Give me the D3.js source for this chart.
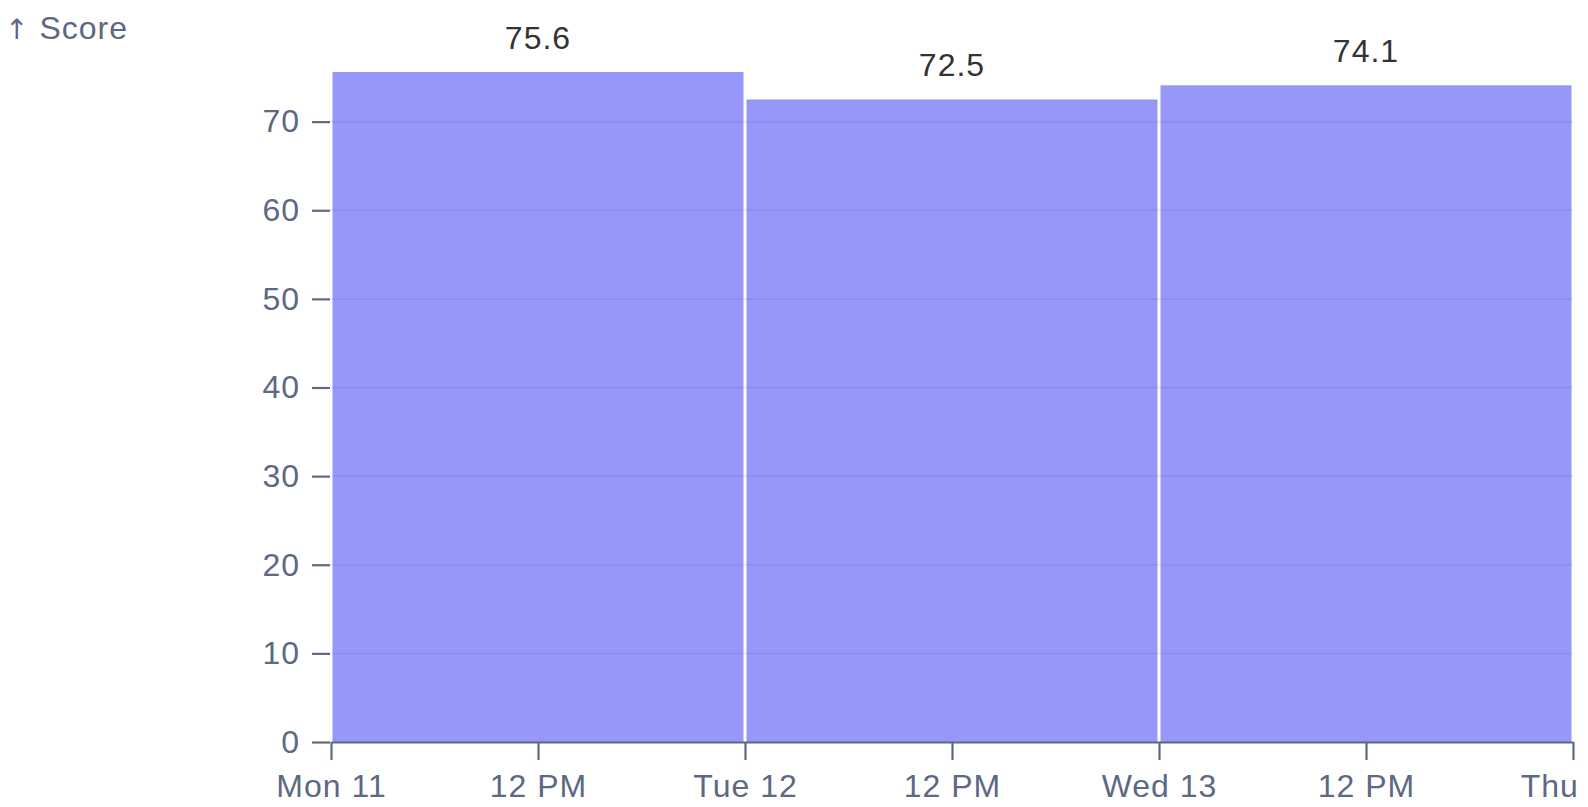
<!DOCTYPE html>
<html><head><meta charset="utf-8">
<script src="https://cdn.jsdelivr.net/npm/d3@7"></script>
<style>
html,body{margin:0;padding:0;background:#fff;}
svg{display:block;font-family:"Liberation Sans",Arial,sans-serif;letter-spacing:1px;}
</style></head>
<body>
<svg id="chart" width="1588" height="807"></svg>
<script>
const dates = ["2023-09-11", "2023-09-12", "2023-09-13"];
const scores = [75.6, 72.5, 74.1];
const yTicks = [0, 10, 20, 30, 40, 50, 60, 70];
const yLabelArrow = "↑";
const yLabel = "Score";

const W = 1588, H = 807;
const svg = d3.select("#chart");
const fs = 32;
const axisColor = "#5d6884";

const start = new Date(dates[0] + "T00:00:00Z");
const end = d3.utcDay.offset(new Date(dates[dates.length - 1] + "T00:00:00Z"), 1);
const x = d3.scaleUtc().domain([start, end]).range([331, 1573]);
const y = d3.scaleLinear().domain([0, d3.max(scores)]).range([742, 72]);

const data = dates.map((d, i) => {
  const s = new Date(d + "T00:00:00Z");
  return {s, e: d3.utcDay.offset(s, 1), v: scores[i]};
});

// bars
svg.append("g").selectAll("rect").data(data).join("rect")
  .attr("x", d => x(d.s) + 1.5)
  .attr("width", d => x(d.e) - x(d.s) - 3)
  .attr("y", d => y(d.v))
  .attr("height", d => y(0) - y(d.v))
  .attr("fill", "#6b6af7").attr("fill-opacity", 0.7);

// grid
svg.append("g").selectAll("line").data(yTicks.filter(t => t > 0)).join("line")
  .attr("x1", x.range()[0]).attr("x2", x.range()[1])
  .attr("y1", d => y(d)).attr("y2", d => y(d))
  .attr("stroke", "#3b3f8a").attr("stroke-opacity", 0.09).attr("stroke-width", 2);

// y axis
const ya = svg.append("g").attr("transform", `translate(330,0)`)
  .call(d3.axisLeft(y).tickValues(yTicks).tickSize(18).tickPadding(12));
ya.select(".domain").remove();
ya.selectAll("line").attr("stroke", axisColor).attr("stroke-width", 2.2);
ya.selectAll("text").attr("fill", axisColor).attr("font-size", fs).attr("font-family", null);

// x axis
const fmt = d => (d3.utcDay(d) < d ? d3.utcFormat("%-I %p")(d) : d3.utcFormat("%a %d")(d));
const xa = svg.append("g").attr("transform", `translate(0,742)`)
  .call(d3.axisBottom(x).ticks(d3.utcHour.every(12)).tickFormat(fmt).tickSize(18).tickPadding(14).tickSizeOuter(0));
xa.select(".domain").attr("stroke", axisColor).attr("stroke-width", 2.2);
xa.selectAll("line").attr("stroke", axisColor).attr("stroke-width", 2.2);
xa.selectAll("text").attr("fill", axisColor).attr("font-size", fs).attr("font-family", null);

// y label
const yl = svg.append("text").attr("x", 5).attr("y", 39).attr("fill", axisColor).attr("font-size", fs);
yl.append("tspan").attr("font-family", "DejaVu Sans").attr("font-size", 28).text(yLabelArrow);
yl.append("tspan").attr("dx", 10).text(yLabel);

// value labels
svg.append("g").selectAll("text").data(data).join("text")
  .attr("x", d => x(new Date((+d.s + +d.e) / 2)))
  .attr("y", d => y(d.v) - 23)
  .attr("text-anchor", "middle")
  .attr("fill", "#333").attr("font-size", fs)
  .text(d => d.v.toFixed(1));
</script>
</body></html>
